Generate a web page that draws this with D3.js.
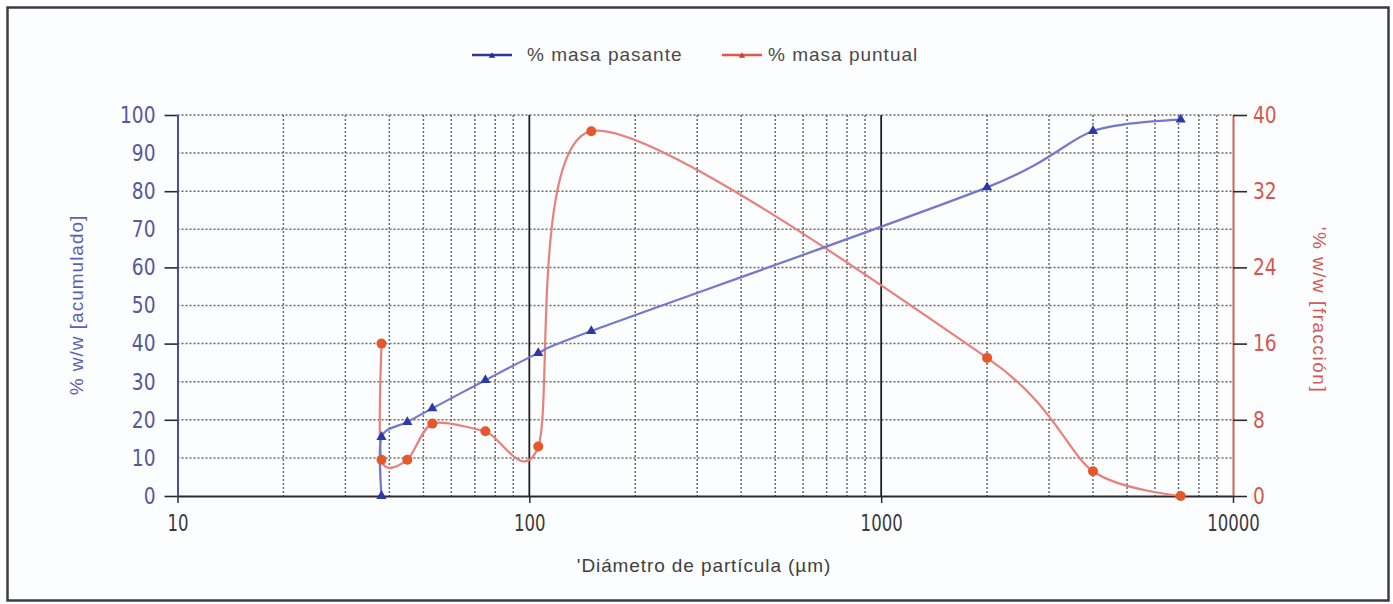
<!DOCTYPE html>
<html>
<head>
<meta charset="utf-8">
<script src="https://cdn.jsdelivr.net/npm/d3@7"></script>
<style>
  html, body { margin: 0; padding: 0; background: #ffffff; }
  svg { display: block; }
</style>
</head>
<body>
<svg id="chart" width="1393" height="604"></svg>
<script>
// ---- data ----
const diametro = [38, 38, 45, 53, 75, 106, 150, 2000, 4000, 7100];
const masaPasante = [0, 15.5, 19.4, 23, 30.4, 37.5, 43.3, 81, 95.8, 98.8];
const masaPuntual = [16, 3.8, 3.8, 7.6, 6.8, 5.2, 38.3, 14.5, 2.6, 0];
const xTicks = [10, 100, 1000, 10000];
const yLeftTicks = [0, 10, 20, 30, 40, 50, 60, 70, 80, 90, 100];
const yRightTicks = [0, 8, 16, 24, 32, 40];
const seriesNames = ["% masa pasante", "% masa puntual"];

const svg = d3.select("#chart");
const W = 1393, H = 604;
const narrow = "'Liberation Sans Narrow', 'Arial Narrow', 'DejaVu Sans Condensed', sans-serif";
const sans = "'Liberation Sans', Arial, sans-serif";

// frame
svg.append("rect").attr("x", 0).attr("y", 0).attr("width", W).attr("height", H).attr("fill", "#ffffff");
svg.append("rect").attr("x", 7.5).attr("y", 7.5).attr("width", 1381).attr("height", 593)
  .attr("fill", "#fcfdfe").attr("stroke", "#3a3f45").attr("stroke-width", 2.5);

const x = d3.scaleLog().domain([10, 10000]).range([177.5, 1233]);
const yL = d3.scaleLinear().domain([0, 100]).range([496, 115]);
const yR = d3.scaleLinear().domain([0, 40]).range([496, 115]);

// grid
const grid = svg.append("g");
const minorX = [];
[10, 100, 1000].forEach(d => { for (let k = 2; k <= 9; k++) minorX.push(d * k); });
grid.selectAll("line.vx").data(minorX).join("line")
  .attr("x1", d => x(d)).attr("x2", d => x(d))
  .attr("y1", yL(100)).attr("y2", yL(0))
  .attr("stroke", "#6a6a6a").attr("stroke-width", 1.5).attr("stroke-dasharray", "2,2");
grid.selectAll("line.hy").data(yLeftTicks.filter(d => d > 0)).join("line")
  .attr("x1", x(10)).attr("x2", x(10000))
  .attr("y1", d => yL(d)).attr("y2", d => yL(d))
  .attr("stroke", "#6a6a6a").attr("stroke-width", 1.5).attr("stroke-dasharray", "2,2");
grid.selectAll("line.maj").data([100, 1000]).join("line")
  .attr("x1", d => x(d)).attr("x2", d => x(d))
  .attr("y1", yL(100)).attr("y2", yL(0))
  .attr("stroke", "#1f1f1f").attr("stroke-width", 1.8);

// axes
const gx = svg.append("g").attr("transform", `translate(0,${yL(0)})`)
  .call(d3.axisBottom(x).tickValues(xTicks).tickFormat(d3.format("d")).tickSize(7).tickSizeOuter(0));
gx.select(".domain").attr("stroke", "#2a2a2a").attr("stroke-width", 2);
gx.selectAll(".tick line").attr("stroke", "#2a2a2a").attr("stroke-width", 1.5);
gx.selectAll(".tick text").attr("font-family", narrow).attr("font-size", 23).attr("fill", "#3a3a3a")
  .attr("y", 19).attr("dy", "0.71em").attr("transform", "scale(0.8,1)");

const gl = svg.append("g").attr("transform", `translate(${x(10)},0)`)
  .call(d3.axisLeft(yL).tickValues(yLeftTicks).tickSize(0).tickPadding(20).tickSizeOuter(0));
gl.select(".domain").attr("stroke", "#4b4f9c").attr("stroke-width", 2);
gl.selectAll(".tick text").attr("font-family", narrow).attr("font-size", 23).attr("fill", "#55589a")
  .attr("x", -22 / 0.9).attr("transform", "scale(0.9,1)");
const glm = svg.append("g").attr("transform", `translate(${x(10)},0)`)
  .call(d3.axisLeft(yL).tickValues([0, 20, 40, 60, 80, 100]).tickSize(13).tickFormat("").tickSizeOuter(0));
glm.select(".domain").remove();
glm.selectAll(".tick line").attr("stroke", "#2a2a2a").attr("stroke-width", 1.6);

const gr = svg.append("g").attr("transform", `translate(${x(10000)},0)`)
  .call(d3.axisRight(yR).tickValues(yRightTicks).tickSize(14).tickPadding(6).tickSizeOuter(0));
gr.select(".domain").attr("stroke", "#d0605a").attr("stroke-width", 2);
gr.selectAll(".tick line").attr("stroke", "#2a2a2a").attr("stroke-width", 1.6);
gr.selectAll(".tick text").attr("font-family", narrow).attr("font-size", 23).attr("fill", "#d4584e")
  .attr("x", 20 / 0.9).attr("transform", "scale(0.9,1)");

// axis titles
svg.append("text").attr("transform", `translate(76,305) rotate(-90)`)
  .attr("text-anchor", "middle").attr("dy", "0.35em")
  .attr("font-family", sans).attr("font-size", 19).attr("letter-spacing", "1px").attr("fill", "#5d60b0")
  .text("% w/w [acumulado]");
svg.append("text").attr("transform", `translate(1320,310) rotate(90)`)
  .attr("text-anchor", "middle").attr("dy", "0.35em")
  .attr("font-family", sans).attr("font-size", 19).attr("letter-spacing", "1.5px").attr("fill", "#d45a56")
  .text("'% w/w [fracción]");
svg.append("text").attr("x", 704).attr("y", 572)
  .attr("text-anchor", "middle")
  .attr("font-family", sans).attr("font-size", 19).attr("letter-spacing", "0.9px").attr("fill", "#3f3f3f")
  .text("'Diámetro de partícula (µm)");

// series
const ptsA = diametro.map((d, i) => [x(d), yL(masaPasante[i])]);
const ptsB = diametro.map((d, i) => [x(d), yR(masaPuntual[i])]);
const line = d3.line().curve(d3.curveCardinal.tension(0.2));

svg.append("path").attr("d", line(ptsB)).attr("fill", "none")
  .attr("stroke", "#e8817b").attr("stroke-width", 2.2);
svg.append("path").attr("d", line(ptsA)).attr("fill", "none")
  .attr("stroke", "#7478cc").attr("stroke-width", 2.2);

const tri = d3.symbol().type(d3.symbolTriangle).size(45);
svg.selectAll("path.mA").data(ptsA).join("path")
  .attr("transform", d => `translate(${d[0]},${d[1]})`)
  .attr("d", tri).attr("fill", "#2b3aa6");
svg.selectAll("circle.mB").data(ptsB).join("circle")
  .attr("cx", d => d[0]).attr("cy", d => d[1]).attr("r", 5)
  .attr("fill", "#e6582c");

// legend
const leg = svg.append("g");
const legItems = [
  { name: seriesNames[0], x0: 472, line: "#2a3a9a", mark: "#1f2d8c", tx: 527 },
  { name: seriesNames[1], x0: 722, line: "#e4564a", mark: "#d0402c", tx: 768 }
];
legItems.forEach(it => {
  leg.append("line").attr("x1", it.x0).attr("x2", it.x0 + 40).attr("y1", 55).attr("y2", 55)
    .attr("stroke", it.line).attr("stroke-width", 2.5);
  leg.append("path").attr("transform", `translate(${it.x0 + 20},56)`)
    .attr("d", d3.symbol().type(d3.symbolTriangle).size(18)).attr("fill", it.mark);
  leg.append("text").attr("x", it.tx).attr("y", 61)
    .attr("font-family", sans).attr("font-size", 19).attr("fill", "#4a4a4a")
    .attr("letter-spacing", "1px")
    .text(it.name);
});
</script>
</body>
</html>
